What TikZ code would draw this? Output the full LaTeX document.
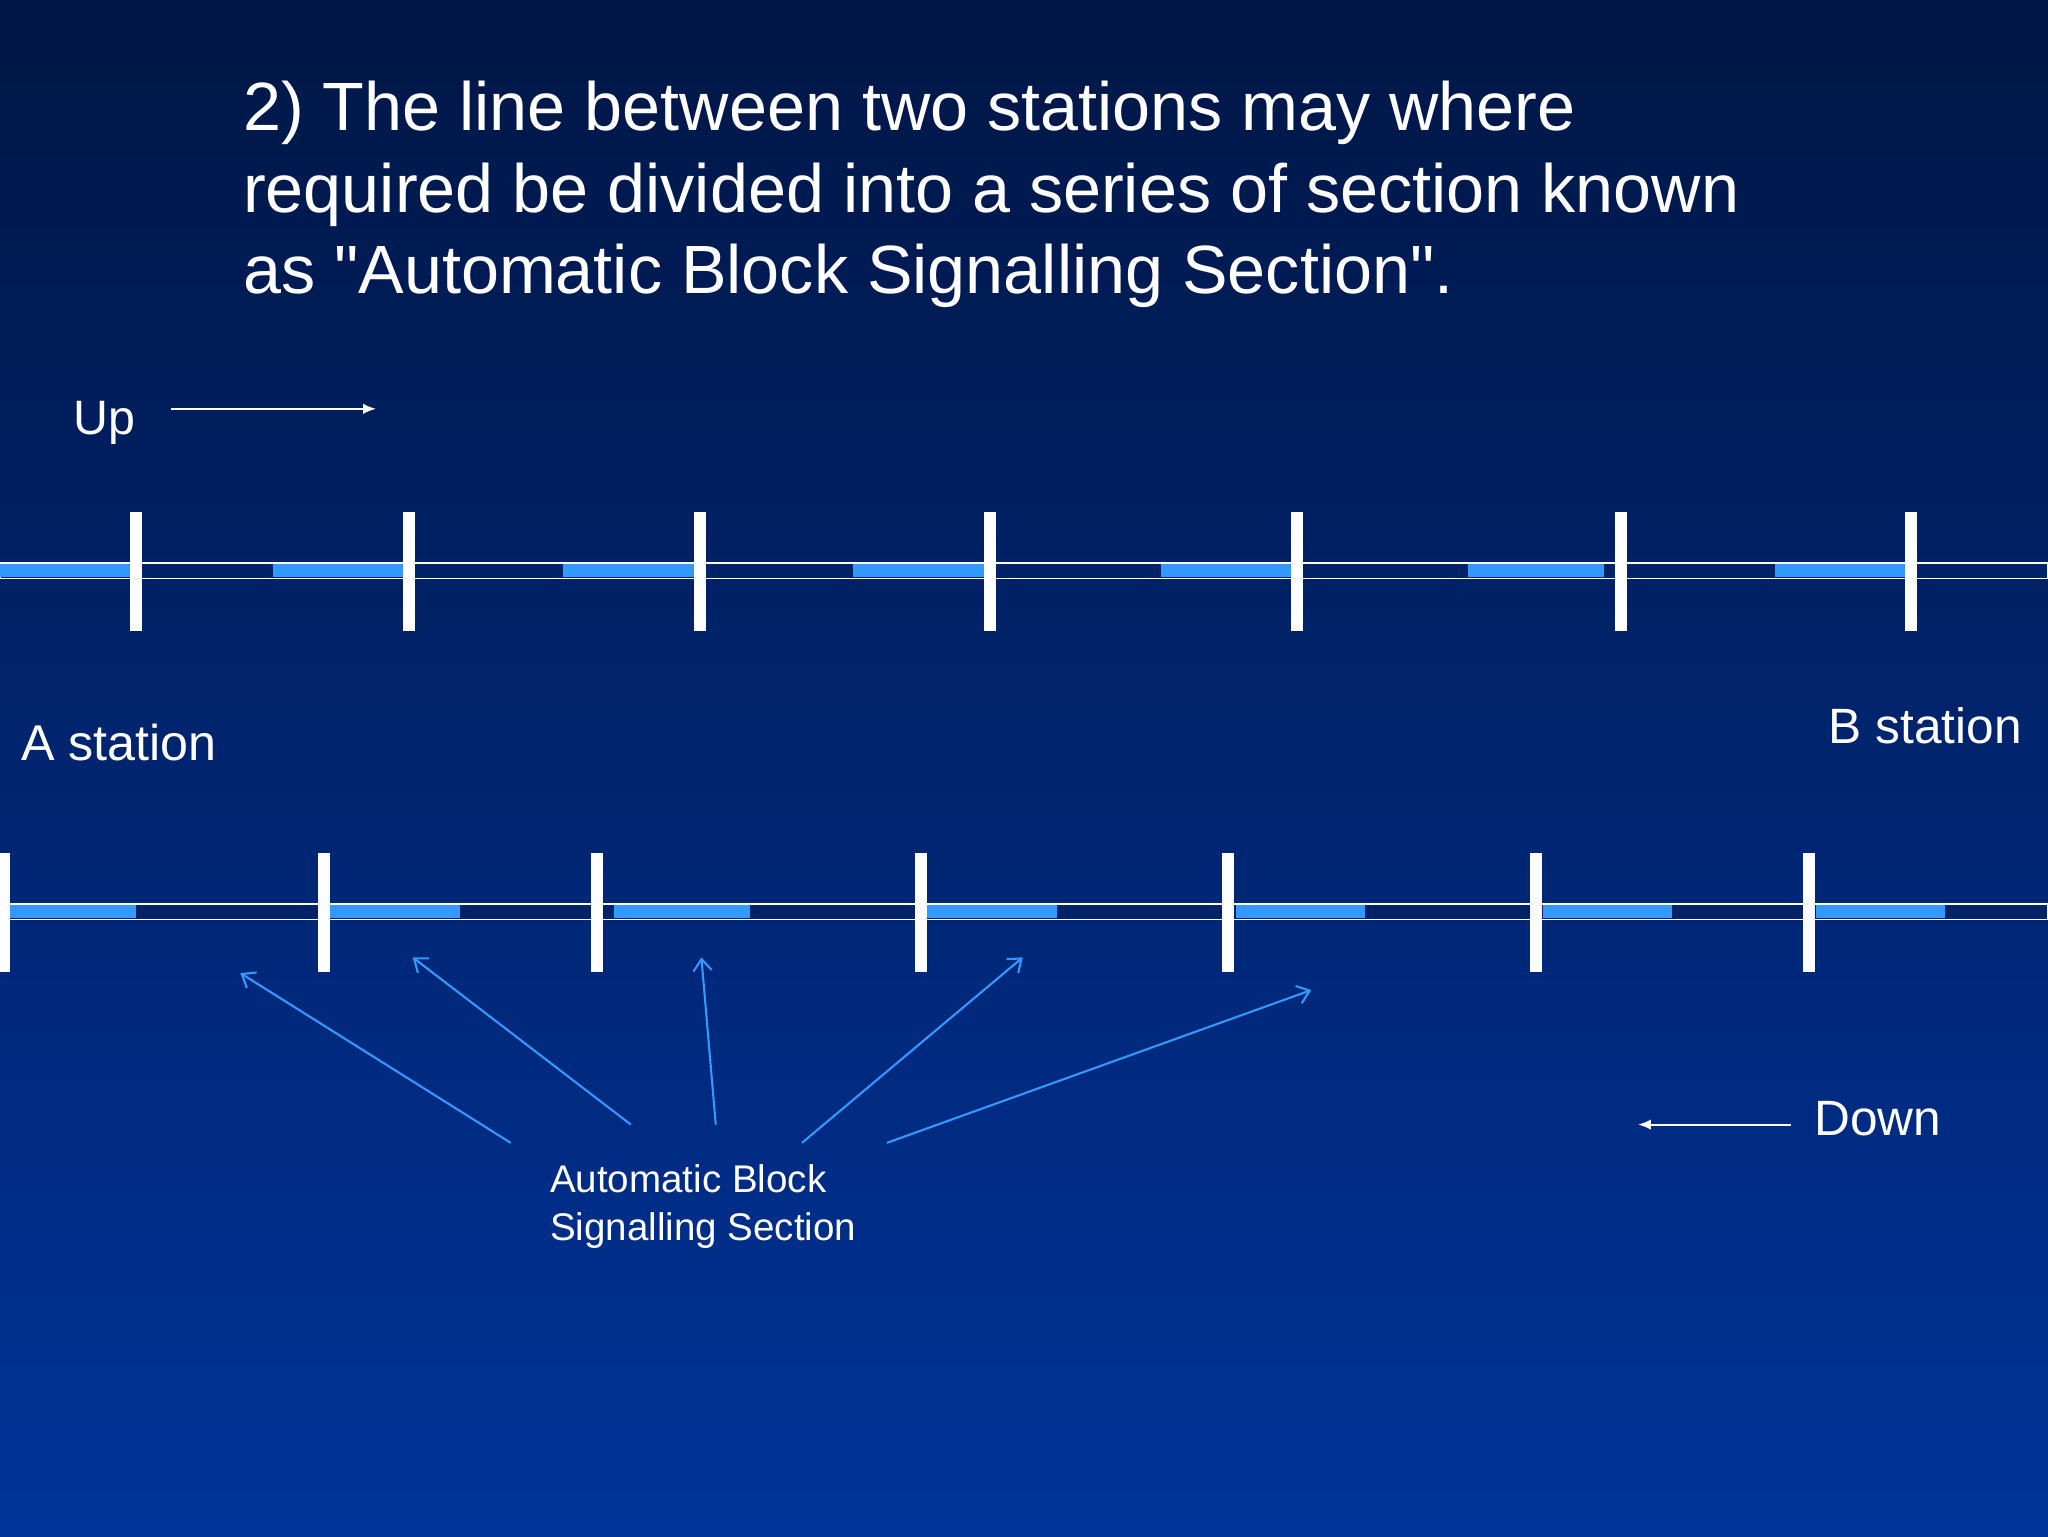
\documentclass[tikz,border=0pt]{standalone}
\usepackage{fontspec}
\setmainfont{Liberation Sans}[Ligatures=TeXOff]
\usetikzlibrary{arrows.meta}
\definecolor{bgtop}{HTML}{001645}
\definecolor{bgbot}{HTML}{003399}
\definecolor{trk}{HTML}{002266}
\definecolor{seg}{HTML}{3399FF}
\begin{document}
\begin{tikzpicture}[x=1pt,y=-1pt,
  tick/.style={draw=none,fill=white},
  lab/.style={text=white,inner sep=0pt},
  callout/.style={draw=seg,line width=1.6pt,-{Straight Barb[length=9pt,width=14pt]}},
  dirarrow/.style={draw=white,line width=1.6pt,-{Latex[length=10pt,width=8pt]}}]
\shade[top color=bgtop,bottom color=bgbot] (0,0) rectangle (1568,1176);
\useasboundingbox (0,0) rectangle (1568,1176);
\node[lab,anchor=base west,align=left,font=\fontsize{52.3}{62.5}\selectfont] (title) at (186,225)
 {2) The line between two stations may where\\required be divided into a series of section known\\as "Automatic Block Signalling Section".};
% top track
\draw[white,line width=1.2pt,fill=trk] (0,431) rectangle (1568,443);
\foreach \a/\b in {0/100,209/309,431/531,653/753,889/989,1124/1228,1359/1459}
  \fill[seg] (\a,432) rectangle (\b,442);
\foreach \x in {104,313,536,758,993,1241,1463}
  \fill[tick] (\x-4.5,392) rectangle (\x+4.5,483);
% bottom track
\draw[white,line width=1.2pt,fill=trk] (0,692) rectangle (1568,704);
\foreach \a/\b in {5/104,253/352,470/574,710/809,946/1045,1181/1280,1390/1489}
  \fill[seg] (\a,693) rectangle (\b,703);
\foreach \x in {3,248,457,705,940,1176,1385}
  \fill[tick] (\x-4.5,653) rectangle (\x+4.5,744);
% labels
\node[lab,anchor=base west,font=\fontsize{37}{40}\selectfont] (up) at (56,333) {Up};
\coordinate (upS) at (131,313);
\coordinate (upE) at (288,313);
\draw[dirarrow] (upS) -- (upE);
\node[lab,anchor=base west,font=\fontsize{38}{40}\selectfont] (down) at (1389,869) {Down};
\coordinate (dnS) at (1371,861);
\coordinate (dnE) at (1254,861);
\draw[dirarrow] (dnS) -- (dnE);
\node[lab,anchor=base west,font=\fontsize{38.5}{40}\selectfont] (A) at (16,582) {A station};
\node[lab,anchor=base west,font=\fontsize{38}{40}\selectfont] (B) at (1400,569) {B station};
\node[lab,anchor=base west,align=left,font=\fontsize{29.5}{37}\selectfont] (abs) at (421,950)
 {Automatic Block\\Signalling Section};
\coordinate (s1) at (391,875); \coordinate (t1) at (184,745);
\coordinate (s2) at (483,861); \coordinate (t2) at (316,733);
\coordinate (s3) at (548,861); \coordinate (t3) at (537,733);
\coordinate (s4) at (614,875); \coordinate (t4) at (783,733);
\coordinate (s5) at (679,875); \coordinate (t5) at (1004,758);
\foreach \i in {1,...,5} \draw[callout] (s\i) -- (t\i);
\end{tikzpicture}
\end{document}
